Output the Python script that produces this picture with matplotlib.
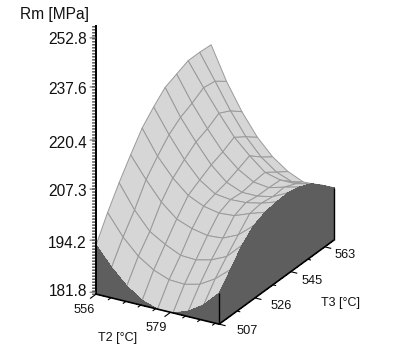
import numpy as np
import matplotlib
matplotlib.use('Agg')
import matplotlib.pyplot as plt

plt.rcParams['font.family'] = ['Liberation Sans', 'DejaVu Sans']

# grid of the surface
t2_grid = [556, 560.75, 565.5, 570.25, 575, 579.75, 584.5, 589.25, 594]
t3_grid = [507, 513.1, 519.2, 525.3, 531.4, 537.5, 543.6, 549.7, 555.8, 561.9, 568]

# Rm, one list per T3 grid line
rm_t3_0 = [193.5, 189.1, 185.5, 183.0, 181.8, 181.8, 183.1, 185.5, 189.2]
rm_t3_1 = [199.6, 194.3, 190.6, 188.2, 186.8, 186.6, 187.5, 189.7, 192.8]
rm_t3_2 = [205.1, 199.1, 194.5, 192.3, 190.6, 190.4, 191.3, 193.0, 196.8]
rm_t3_3 = [210.2, 204.7, 199.9, 196.5, 195.0, 194.2, 194.5, 196.3, 199.6]
rm_t3_4 = [215.1, 208.6, 203.9, 200.4, 198.6, 197.8, 198.1, 199.6, 200.9]
rm_t3_5 = [218.5, 212.1, 206.5, 202.2, 199.6, 199.1, 199.3, 200.1, 201.4]
rm_t3_6 = [221.7, 214.5, 208.9, 203.9, 200.4, 198.8, 198.8, 199.6, 201.6]
rm_t3_7 = [223.3, 216.0, 210.2, 205.1, 201.6, 199.3, 198.8, 199.9, 200.9]
rm_t3_8 = [224.9, 217.9, 212.1, 206.7, 202.9, 199.6, 198.6, 198.6, 199.6]
rm_t3_9 = [224.9, 217.4, 210.5, 204.7, 200.4, 197.5, 196.0, 196.3, 197.0]
rm_t3_10 = [224.6, 215.1, 208.0, 202.4, 198.3, 195.5, 193.8, 194.0, 194.2]

# axis ticks as printed
rm_ticks = [181.8, 194.2, 207.3, 220.4, 237.6, 252.8]
rm_labels = ['181.8', '194.2', '207.3', '220.4', '237.6', '252.8']
rm_tick_heights = [0, 52, 103, 152, 205, 254]
t2_major = [556, 579]
t2_minor = [560.6, 565.2, 569.8, 574.4, 583.6, 588.2, 592.8]
t3_major = [507, 526, 545, 563]
t3_minor = [516.5, 535.5, 554]

WALL = '#5e5e5e'
FACE = '#d6d6d6'
GRID = '#9a9a9a'

W, H = 410, 350
SIDE = 490
fig = plt.figure(figsize=(W / 100, H / 100), dpi=100)
ax = fig.add_axes([(208.5 - SIDE / 2) / W, (211 - SIDE / 2) / H, SIDE / W, SIDE / H],
                  projection='3d', proj_type='ortho', computed_zorder=False)
ax.view_init(elev=25, azim=-60)
ax.set_box_aspect((142, 230, 297), zoom=0.796)
ax.set_xlim(t2_grid[0], t2_grid[-1], view_margin=0)
ax.set_ylim(t3_grid[0], t3_grid[-1], view_margin=0)
ax.set_zlim(0, 269, view_margin=0)
ax.set_axis_off()

rm = np.array([rm_t3_0, rm_t3_1, rm_t3_2, rm_t3_3, rm_t3_4, rm_t3_5,
               rm_t3_6, rm_t3_7, rm_t3_8, rm_t3_9, rm_t3_10])
# the printed z labels are unevenly spaced, so the scale follows them
z = np.interp(rm, rm_ticks, rm_tick_heights)
X, Y = np.meshgrid(t2_grid, t3_grid)

ax.plot_surface(X, Y, z, rstride=1, cstride=1, color=FACE, edgecolor=GRID,
                linewidth=0.7, shade=False, zorder=1)

# front wall and right wall
xw = np.array([t2_grid, t2_grid])
yw = np.full(xw.shape, t3_grid[0])
zw = np.array([np.zeros(len(t2_grid)), z[0]])
ax.plot_surface(xw, yw, zw, rstride=1, cstride=1, color=WALL, linewidth=0,
                antialiased=False, shade=False, zorder=2)
yw = np.array([t3_grid, t3_grid])
xw = np.full(yw.shape, t2_grid[-1])
zw = np.array([np.zeros(len(t3_grid)), z[:, -1]])
ax.plot_surface(xw, yw, zw, rstride=1, cstride=1, color=WALL, linewidth=0,
                antialiased=False, shade=False, zorder=2)


def line(xs, ys, zs, lw=1.0, color='black'):
    ax.plot(xs, ys, zs, color=color, lw=lw, zorder=3, solid_capstyle='butt')


x0, x1 = t2_grid[0], t2_grid[-1]
y0, y1 = t3_grid[0], t3_grid[-1]
line([x0, x1], [y0, y0], [0, 0], 1.2)
line([x1, x1], [y0, y1], [0, 0], 1.2)
line([x0, x0], [y0, y0], [0, 269], 1.4)
line([x1, x1], [y0, y0], [0, z[0][-1]], 1.0)
line([x1, x1], [y1, y1], [0, z[-1][-1]], 1.0)

# ticks on the floor edges
for t in t2_major:
    line([t, t], [y0, y0 - 3.2], [0, 0], 0.8)
for t in t2_minor:
    line([t, t], [y0, y0 - 1.6], [0, 0], 0.8)
for t in t3_major:
    line([x1, x1 + 2], [t, t], [0, 0], 0.8)
for t in t3_minor:
    line([x1, x1 + 1], [t, t], [0, 0], 0.8)

# ladder of small ticks on the z axis, drawn level on screen
for h in np.arange(0, 269, 3):
    line([x0, x0], [y0, y0 - 2.1], [h, h + 2.86], 0.7)
for h in rm_tick_heights:
    line([x0, x0], [y0, y0 - 3.4], [h + 2, h + 2 + 4.6], 0.7, '#555555')


def label(x, y, s, size=9.2, ha='center'):
    fig.text(x / W, 1 - y / H, s, fontsize=size, ha=ha, va='center', color='#111111')


label(55, 15, 'Rm [MPa]', 11.2)
for y, s in zip([291, 243, 191, 143, 89, 40], rm_labels):
    label(87, y, s, 11.2, ha='right')
for (x, y), t in zip([(84, 310), (156, 328)], t2_major):
    label(x, y, str(t))
for (x, y), t in zip([(247, 331), (281, 306), (312, 281), (345, 255)], t3_major):
    label(x, y, str(t))
label(118, 338, 'T2 [°C]', 9)
label(341, 303, 'T3 [°C]', 9)

fig.savefig('out.png', dpi=100)
